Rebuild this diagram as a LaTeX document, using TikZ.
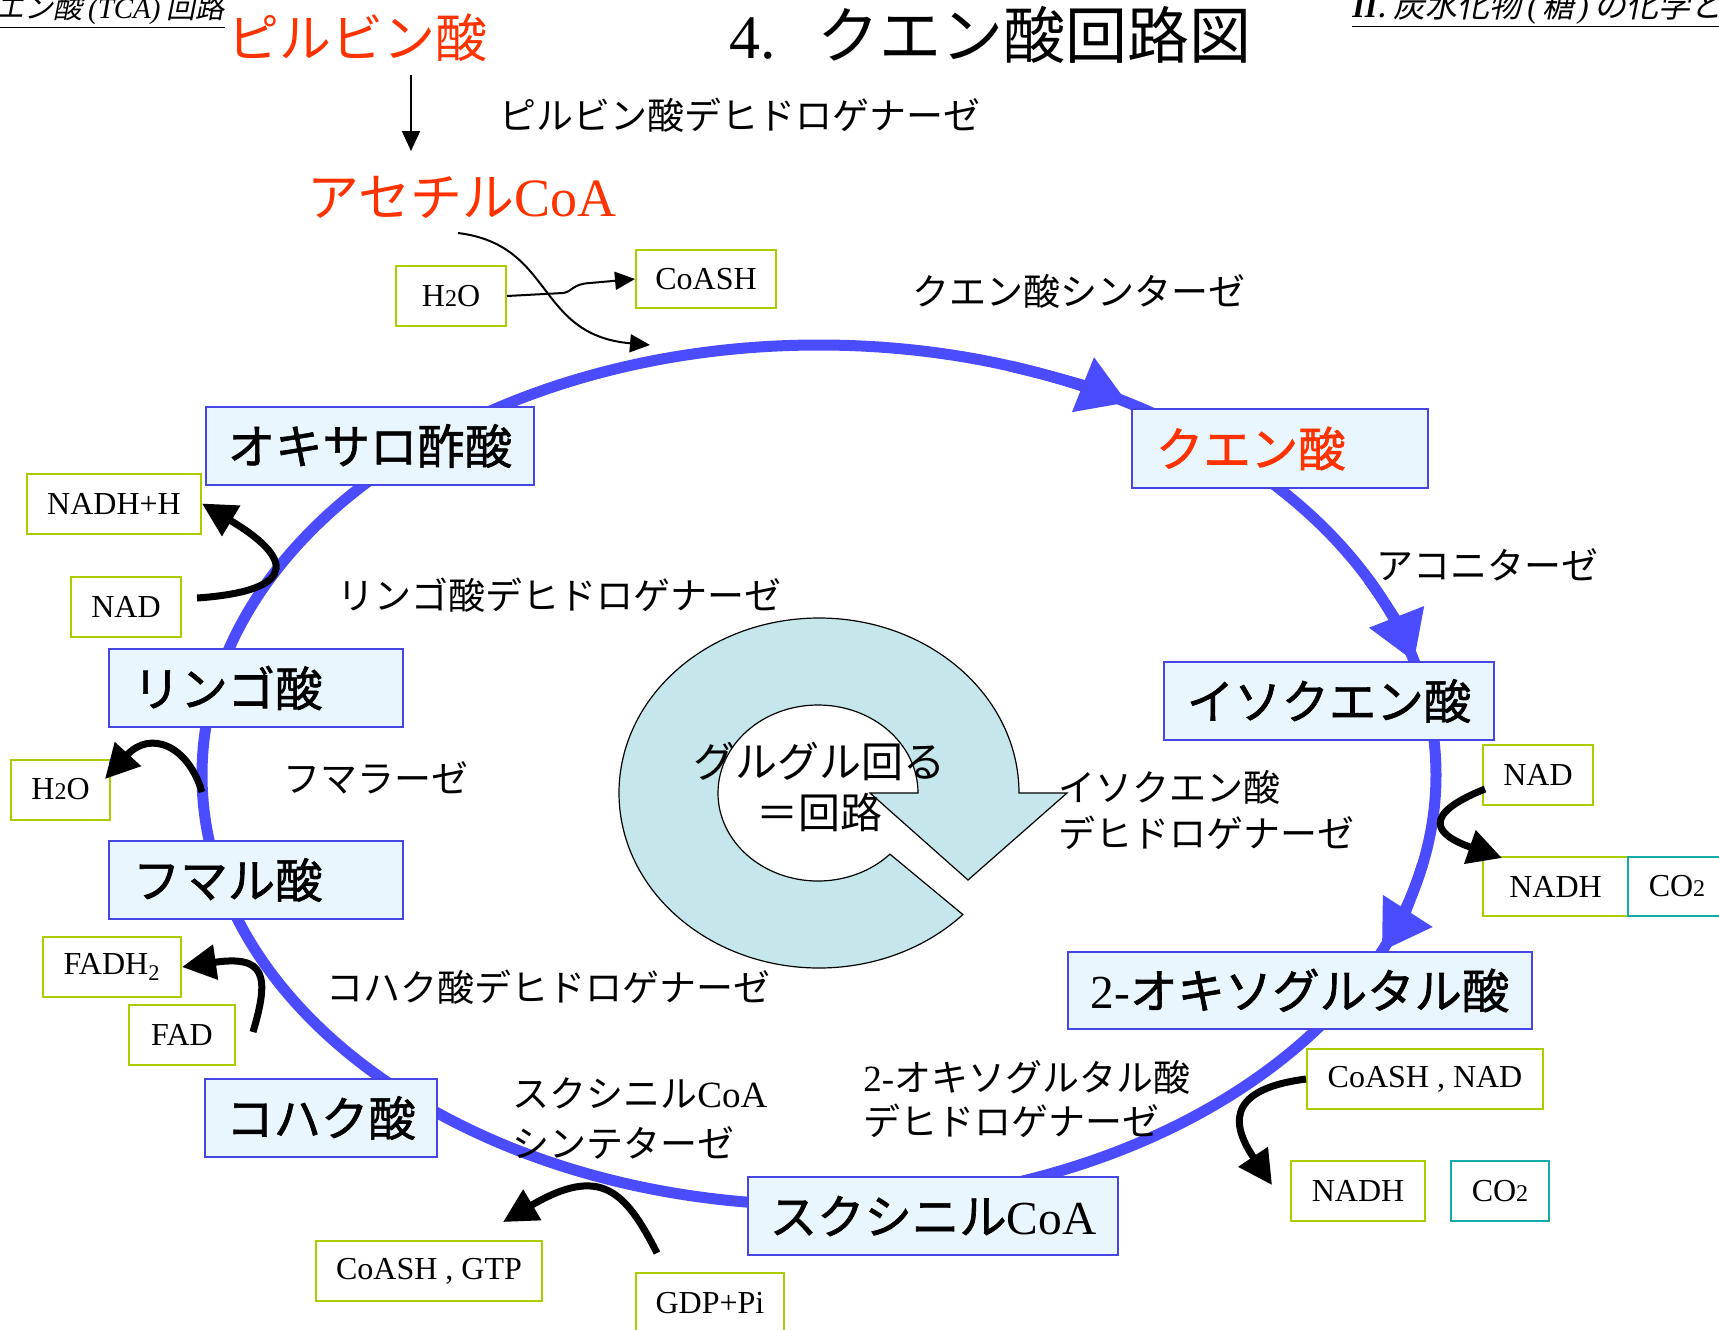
\documentclass[tikz,border=0pt]{standalone}
\usepackage{fontspec}
\setmainfont{Liberation Serif}
\newfontfamily\jp{Noto Sans CJK JP}
\newfontfamily\jpb[FakeBold=1.3]{Noto Sans CJK JP}
\newfontfamily\jpsl[FakeSlant=0.2]{Noto Sans CJK JP}
\usetikzlibrary{arrows.meta}
\definecolor{ringblue}{RGB}{75,75,255}
\definecolor{boxblue}{RGB}{70,70,230}
\definecolor{boxfill}{RGB}{234,246,253}
\definecolor{lgreen}{RGB}{170,205,0}
\definecolor{teal2}{RGB}{20,170,170}
\definecolor{redtxt}{RGB}{255,50,0}
\definecolor{cfill}{RGB}{197,230,234}
\tikzset{
  acid/.style={draw=boxblue, fill=boxfill, line width=1pt, inner sep=0pt,
    minimum height=39pt, font=\jpb\fontsize{23.7}{28}\selectfont},
  acidL/.style={acid, inner xsep=12pt, align=left},
  smallbox/.style={draw=lgreen, fill=white, line width=1pt, inner sep=0pt,
    minimum height=30pt, font=\fontsize{16}{19}\selectfont},
  tealbox/.style={smallbox, draw=teal2},
  lbl/.style={font=\jp\fontsize{18.5}{23}\selectfont, inner sep=0pt, anchor=west, align=left},
  ring/.style={draw=ringblue, line width=5.5pt},
  ringtip/.style={ring, -{Triangle[length=24pt,width=28pt]}},
  thinarrow/.style={line width=1pt, -{Triangle[length=10pt,width=9pt]}},
  bigarrow/.style={line width=3.5pt, -{Triangle[length=17pt,width=17pt]}},
}
\begin{document}
\begin{tikzpicture}[x=0.5pt,y=-0.5pt]
\useasboundingbox (0,0) rectangle (1719,1329);
\clip (0,0) rectangle (1719,1329);

% headers
\node[anchor=east, inner sep=0pt, font=\jpsl\fontsize{14.5}{17}\selectfont] (hdrL) at (225,11)
  {\underline{クエン酸\hspace{3pt}{\rmfamily\itshape (TCA)}\hspace{3pt}回路}};
\node[anchor=west, inner sep=0pt, font=\jpsl\fontsize{16}{19}\selectfont] (hdrR) at (1352,9)
  {\underline{{\rmfamily\bfseries\itshape II}. 炭水化物\hspace{3pt}{\rmfamily\itshape (}\hspace{2pt}糖\hspace{2pt}{\rmfamily\itshape )}\hspace{3pt}の化学と代謝}};
\node[anchor=west, inner sep=0pt] (title) at (729,35)
  {\fontsize{31}{36}\selectfont 4.\hspace{21pt}{\jp クエン酸回路図}};

% pyruvate -> acetyl CoA
\node[anchor=west, inner sep=0pt, text=redtxt, font=\jp\fontsize{26}{30}\selectfont] (pyr) at (227,38) {ピルビン酸};
\coordinate (pa) at (411,75);
\coordinate (pb) at (411,151);
\draw[thinarrow] (pa) -- (pb);
\node[lbl] (pdh) at (499,115) {ピルビン酸デヒドロゲナーゼ};
\node[anchor=west, inner sep=0pt, text=redtxt] (acoa) at (307,197)
  {{\jp\fontsize{26}{30}\selectfont アセチル}{\fontsize{27}{30}\selectfont CoA}};

\node[smallbox, minimum width=55pt] (h2oT) at (451,296) {H{\fontsize{12}{12}\selectfont 2}O};
\node[smallbox, minimum width=70pt, minimum height=29pt] (coashT) at (706,279) {CoASH};
\coordinate (c0) at (458,233);
\coordinate (c1) at (650,345);
\draw[thinarrow] (c0) .. controls (555,245) and (535,335) .. (c1);
\draw[thinarrow] (h2oT.east) -- (563,293) .. controls (572,292) and (572,284) .. (590,283) -- (coashT.west);
\node[lbl] (cs) at (912,291) {クエン酸シンターゼ};

% central cycle arrow
\draw[fill=cfill, draw=black, line width=0.6pt] (819,793) ++(44:200 and 175)
  arc[start angle=44, end angle=360, x radius=200, y radius=175]
  -- (1067,793) -- (968,880) -- (870,793) -- (918,793)
  arc[start angle=360, end angle=44, x radius=100, y radius=88] -- cycle;
\node[font=\jp\fontsize{21}{25.5}\selectfont, align=center, inner sep=0pt] (gur) at (819,787) {グルグル回る\\＝回路};

% big cycle
\draw[ring] (819,775) ellipse [x radius=617, y radius=430];
\draw[ringtip] (819,775) ++(-72:617 and 430) arc[start angle=-72, end angle=-60, x radius=617, y radius=430];
\draw[ringtip] (819,775) ++(-27:617 and 430) arc[start angle=-27, end angle=-15.3, x radius=617, y radius=430];
\draw[ringtip] (819,775) ++(12:617 and 430) arc[start angle=12, end angle=24.2, x radius=617, y radius=430];

% acids
\node[acid, minimum width=164pt] (oxa) at (370,446) {オキサロ酢酸};
\node[acidL, text width=124pt, minimum height=39.5pt, text=redtxt] (cit) at (1280,448.5) {クエン酸};
\node[acid, minimum width=165pt] (iso) at (1329,701) {イソクエン酸};
\node[acid, minimum width=232pt, minimum height=38.5pt] (oxg) at (1300,990.5) {{\rmfamily\mdseries 2-}オキソグルタル酸};
\node[acid, minimum width=185pt] (scoa) at (933,1216) {スクシニル{\rmfamily\mdseries CoA}};
\node[acid, minimum width=116pt] (suc) at (321,1118) {コハク酸};
\node[acidL, text width=123pt] (fum) at (256,880) {フマル酸};
\node[acidL, text width=123pt] (mal) at (256,688) {リンゴ酸};

% enzyme labels
\node[lbl] (aco) at (1376,565) {アコニターゼ};
\node[lbl, font=\jp\fontsize{18.5}{23}\selectfont] (idh) at (1058,810) {イソクエン酸\\デヒドロゲナーゼ};
\node[lbl, font=\jp\fontsize{18.5}{22}\selectfont] (ogdh) at (863,1098.5) {{\rmfamily 2-}オキソグルタル酸\\デヒドロゲナーゼ};
\node[lbl, font=\jp\fontsize{18.5}{25}\selectfont] (scs) at (512,1118) {スクシニル{\rmfamily CoA}\\シンテターゼ};
\node[lbl] (sdh) at (326,987) {コハク酸デヒドロゲナーゼ};
\node[lbl] (fumase) at (283,778) {フマラーゼ};
\node[lbl] (mdh) at (337,595) {リンゴ酸デヒドロゲナーゼ};

% cofactor boxes
\node[smallbox, minimum width=87pt] (nadhH) at (114,503.5) {NADH+H};
\node[smallbox, minimum width=55pt] (nadL) at (126,606.5) {NAD};
\node[smallbox, minimum width=49.5pt] (h2oL) at (60.5,789.5) {H{\fontsize{12}{12}\selectfont 2}O};
\node[smallbox, minimum width=69pt] (fadh) at (112,967) {FADH\textsubscript{2}};
\node[smallbox, minimum width=53pt] (fad) at (182,1035) {FAD};
\node[smallbox, minimum width=113pt] (gtp) at (429,1271) {CoASH , GTP};
\node[smallbox, minimum width=74pt] (gdp) at (710,1303) {GDP+Pi};
\node[smallbox, minimum width=118pt] (cnad) at (1425,1079) {CoASH , NAD};
\node[smallbox, minimum width=67pt] (nadhB) at (1358,1191) {NADH};
\node[tealbox, minimum width=49pt] (co2B) at (1500,1191) {CO{\fontsize{12}{12}\selectfont 2}};
\node[smallbox, minimum width=55pt] (nadR) at (1538,775) {NAD};
\node[smallbox, minimum width=72.5pt, minimum height=29.5pt] (nadhR) at (1555.5,886.5) {NADH};
\node[tealbox, minimum width=49pt, minimum height=29.5pt] (co2R) at (1677,886.5) {CO{\fontsize{12}{12}\selectfont 2}};

% black cofactor arrows
\coordinate (s1) at (197,598);
\draw[bigarrow] (s1) .. controls (285,592) and (305,565) .. (nadhH.east);
\coordinate (s2) at (202,792);
\coordinate (e2) at (105,779);
\draw[bigarrow] (s2) .. controls (188,745) and (150,730) .. (e2);
\coordinate (s3) at (253,1032);
\draw[bigarrow] (s3) .. controls (270,975) and (265,955) .. (fadh.east);
\coordinate (s4) at (657,1253);
\coordinate (e4) at (503,1222);
\draw[bigarrow] (s4) .. controls (625,1190) and (600,1165) .. (e4);
\coordinate (e5) at (1272,1185);
\draw[bigarrow] (cnad.west) .. controls (1220,1090) and (1235,1130) .. (e5);
\coordinate (s6) at (1485,789);
\coordinate (e6) at (1502,858);
\draw[bigarrow] (s6) .. controls (1420,815) and (1435,835) .. (e6);
\end{tikzpicture}
\end{document}
